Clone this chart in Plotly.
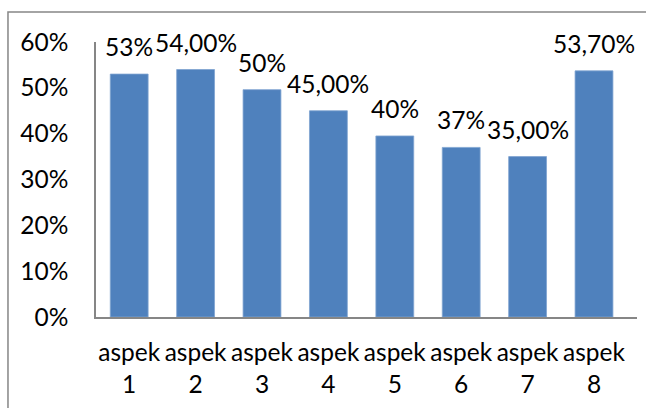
import plotly.graph_objects as go

categories = ["aspek<br>1", "aspek<br>2", "aspek<br>3", "aspek<br>4",
              "aspek<br>5", "aspek<br>6", "aspek<br>7", "aspek<br>8"]
values = [0.53, 0.54, 0.496, 0.45, 0.395, 0.37, 0.35, 0.537]
labels = ["53%", "54,00%", "50%", "45,00%", "40%", "37%", "35,00%", "53,70%"]
y_ticks = [0, 0.1, 0.2, 0.3, 0.4, 0.5, 0.6]
y_tick_text = ["0%", "10%", "20%", "30%", "40%", "50%", "60%"]

FONT = "Lato, Open Sans, sans-serif"
FS = 24.5

fig = go.Figure()
fig.add_trace(go.Bar(
    x=categories, y=values,
    marker=dict(color="#4F81BD", line=dict(color="#7FA3D1", width=0.8)),
    hoverinfo="skip",
))

for c, v, t in zip(categories, values, labels):
    fig.add_annotation(x=c, y=v, text=t, showarrow=False,
                       yanchor="bottom", yshift=11,
                       font=dict(family=FONT, size=FS, color="#000000"))

fig.update_layout(
    width=646, height=408,
    margin=dict(l=96, r=9, t=42, b=91),
    paper_bgcolor="white", plot_bgcolor="white",
    showlegend=False,
    bargap=0.43,
    font=dict(family=FONT, size=FS, color="#000000"),
    xaxis=dict(showline=True, linecolor="#868686", linewidth=1.5,
               showgrid=False, ticks="", tickfont=dict(size=FS),
               ticklabelstandoff=13),
    yaxis=dict(range=[0, 0.6], tickvals=y_ticks, ticktext=y_tick_text,
               showline=True, linecolor="#868686", linewidth=1.5,
               showgrid=False, zeroline=False, ticks="",
               tickfont=dict(size=FS), ticklabelstandoff=21),
    shapes=[dict(type="rect", xref="paper", yref="paper",
                 x0=-0.1627, x1=1.1, y0=-0.35, y1=1.109,
                 line=dict(color="#868686", width=1.5))],
)

fig.write_html("out.html")
